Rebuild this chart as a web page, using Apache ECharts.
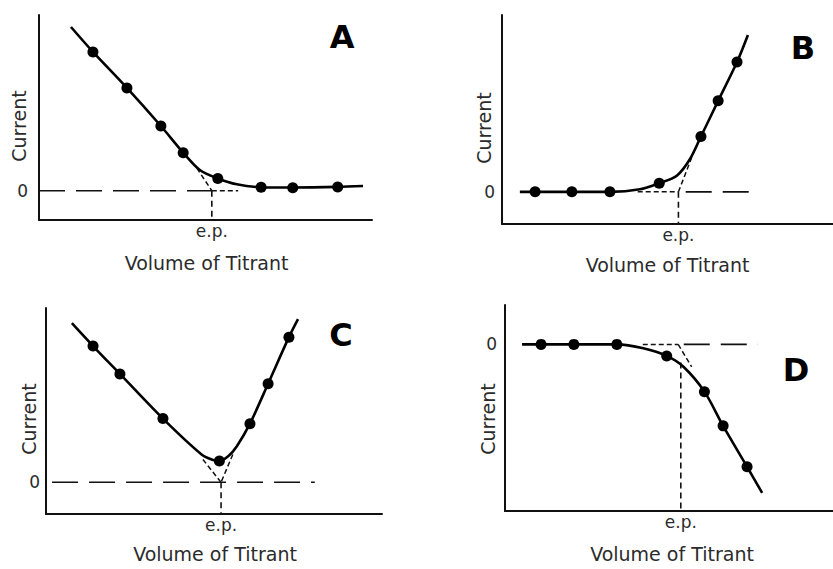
<!DOCTYPE html>
<html><head><meta charset="utf-8">
<script src="https://cdn.jsdelivr.net/npm/echarts@6/dist/echarts.min.js"></script>
<style>html,body{margin:0;padding:0;background:#fff}#c{width:833px;height:569px}</style>
</head><body><div id="c"></div>
<script>
// ---------- text ----------
const panelLetters = ['A', 'B', 'C', 'D'];
const xTitle = 'Volume of Titrant';
const yTitle = 'Current';
const epText = 'e.p.';
const zeroText = '0';

// ---------- value ranges (arbitrary units) ----------
const xRange = [0, 10];
const yRangeA = [-1, 6];
const yRangeB = [-1, 5.5];
const yRangeC = [-1, 5.5];
const yRangeD = [-5.5, 1.3];

// ---------- Panel A ----------
const dotsA = [[1.62,4.74],[2.64,3.51],[3.66,2.21],[4.33,1.30],[5.37,0.42],[6.67,0.12],[7.62,0.10],[8.97,0.13]];
const curveA = [[0.96,5.59],[1.62,4.74],[2.64,3.51],[3.66,2.21],[4.33,1.30],[4.83,0.71],[5.37,0.42],[5.94,0.22],[6.67,0.12],[7.62,0.11],[8.97,0.13],[9.73,0.16]];
const epA = 5.19;
const extrapA = [[[4.74,0.77],[5.19,0]]];
const zeroLongA = [[0,0],[5.19,0]];
const zeroShortA = [[5.19,0],[5.98,0]];

// ---------- Panel B ----------
const dotsB = [[1.0,0],[2.11,0],[3.26,0],[4.75,0.27],[6.01,1.72],[6.53,2.83],[7.10,4.04]];
const curveB = [[0.54,0],[1.0,0],[2.11,0],[3.26,0],[4.17,0.08],[4.75,0.27],[5.28,0.50],[5.68,1.02],[6.01,1.72],[6.53,2.83],[7.10,4.04],[7.43,4.88]];
const epB = 5.33;
const extrapB = [[[5.33,0],[5.80,1.25]]];
const zeroLongB = [[5.55,0],[7.5,0]];
const zeroShortB = [[4.1,0],[5.33,0]];

// ---------- Panel C ----------
const dotsC = [[1.40,4.30],[2.20,3.42],[3.48,2.01],[5.16,0.67],[6.07,1.85],[6.61,3.11],[7.23,4.58]];
const curveC = [[0.77,5.02],[1.40,4.30],[2.20,3.42],[3.48,2.01],[4.63,0.88],[4.98,0.70],[5.16,0.67],[5.43,0.83],[5.68,1.14],[6.07,1.85],[6.61,3.11],[7.23,4.58],[7.5,5.15]];
const epC = 5.21;
const extrapC = [[[4.67,0.72],[5.21,0]], [[5.56,0.88],[5.21,0]]];
const zeroLongC = [[0.18,0],[8.0,0]];
const zeroShortC = [];

// ---------- Panel D ----------
const dotsD = [[1.10,0],[2.10,0],[3.41,0],[4.93,-0.38],[6.08,-1.56],[6.65,-2.69],[7.38,-4.04]];
const curveD = [[0.52,0],[1.10,0],[2.10,0],[3.41,0],[4.22,-0.13],[4.93,-0.38],[5.44,-0.74],[6.08,-1.56],[6.65,-2.69],[7.38,-4.04],[7.84,-4.9]];
const epD = 5.36;
const epTopD = -0.6;
const extrapD = [[[5.28,0],[5.69,-0.74]]];
const zeroLongD = [[5.45,0],[7.71,0]];
const zeroShortD = [[4.2,0],[5.28,0]];

// ---------- layout (positions & styles only) ----------
const grids = [
  {left: 39, top: 15, width: 333, height: 205},
  {left: 502, top: 15, width: 331, height: 209},
  {left: 46, top: 308, width: 336, height: 206},
  {left: 505, top: 305, width: 328, height: 206}
];
const zeroMargins = [11, 7, 6, 8];
const letterPos = [[342, 36.5], [803, 47.5], [341, 334.5], [796, 369.5]];
const yTitlePos = [[18.5, 126], [484, 128], [29, 419], [487.5, 419]];
const xTitlePos = [[206.5, 263], [667.5, 265], [215, 554], [672, 554]];

const INK = '#000';
const TXT = '#2b2b2b';
const FONT = 'DejaVu Sans';

const panels = [
  {dots: dotsA, curve: curveA, ep: epA, epTop: 0, extrap: extrapA, zl: zeroLongA, zs: zeroShortA, yr: yRangeA},
  {dots: dotsB, curve: curveB, ep: epB, epTop: 0, extrap: extrapB, zl: zeroLongB, zs: zeroShortB, yr: yRangeB},
  {dots: dotsC, curve: curveC, ep: epC, epTop: 0, extrap: extrapC, zl: zeroLongC, zs: zeroShortC, yr: yRangeC},
  {dots: dotsD, curve: curveD, ep: epD, epTop: epTopD, extrap: extrapD, zl: zeroLongD, zs: zeroShortD, yr: yRangeD}
];

const xAxes = [], yAxes = [], series = [], graphics = [];
panels.forEach((p, i) => {
  xAxes.push({
    type: 'value', gridIndex: i, min: xRange[0], max: xRange[1],
    axisLine: {show: true, onZero: false, lineStyle: {color: '#111', width: 2}},
    axisTick: {show: false}, splitLine: {show: false},
    axisLabel: {customValues: [p.ep], formatter: () => epText, margin: 2,
      color: TXT, fontFamily: FONT, fontSize: 17}
  });
  yAxes.push({
    type: 'value', gridIndex: i, min: p.yr[0], max: p.yr[1],
    axisLine: {show: true, onZero: false, lineStyle: {color: '#111', width: 2}},
    axisTick: {show: false}, splitLine: {show: false},
    axisLabel: {customValues: [0], formatter: () => zeroText, margin: zeroMargins[i],
      color: TXT, fontFamily: FONT, fontSize: 17}
  });
  const dashLine = (data, dash, w) => ({
    type: 'line', xAxisIndex: i, yAxisIndex: i, data, symbol: 'none', silent: true,
    lineStyle: {color: '#111', width: w, type: dash}, z: 2
  });
  if (p.zl.length) series.push(dashLine(p.zl, [26, 11], 1.6));
  if (p.zs.length) series.push(dashLine(p.zs, [5, 3], 1.5));
  p.extrap.forEach(seg => series.push(dashLine(seg, [5, 3], 1.5)));
  series.push(dashLine([[p.ep, p.epTop], [p.ep, p.yr[0]]], [6, 4], 1.6));
  series.push({
    type: 'line', xAxisIndex: i, yAxisIndex: i, data: p.curve, symbol: 'none',
    smooth: 0.3, silent: true,
    lineStyle: {color: INK, width: 2.6}, z: 3
  });
  series.push({
    type: 'scatter', xAxisIndex: i, yAxisIndex: i, data: p.dots, symbol: 'circle',
    symbolSize: 11, itemStyle: {color: INK, opacity: 1}, silent: true, z: 4
  });
  graphics.push({
    type: 'text', x: letterPos[i][0], y: letterPos[i][1],
    style: {text: panelLetters[i], fill: '#000', font: 'bold 32px "DejaVu Sans"',
      textAlign: 'center', textVerticalAlign: 'middle'}
  });
  graphics.push({
    type: 'text', x: yTitlePos[i][0], y: yTitlePos[i][1], rotation: Math.PI / 2,
    style: {text: yTitle, fill: TXT, font: '19px "DejaVu Sans"',
      textAlign: 'center', textVerticalAlign: 'middle'}
  });
  graphics.push({
    type: 'text', x: xTitlePos[i][0], y: xTitlePos[i][1],
    style: {text: xTitle, fill: TXT, font: '19px "DejaVu Sans"',
      textAlign: 'center', textVerticalAlign: 'middle'}
  });
});

const chart = echarts.init(document.getElementById('c'), null, {renderer: 'svg'});
chart.setOption({
  animation: false,
  backgroundColor: '#fff',
  grid: grids,
  xAxis: xAxes,
  yAxis: yAxes,
  series: series,
  graphic: graphics
});
</script>
</body></html>
